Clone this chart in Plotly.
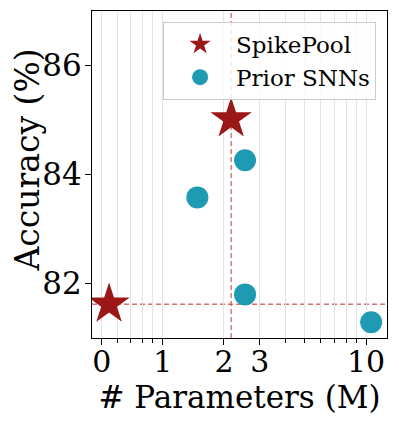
import numpy as np
import plotly.graph_objects as go

# ---- data ----
spikepool_params = [0.12, 2.17]
spikepool_acc = [81.62, 85.02]
prior_params = [1.48, 2.54, 2.54, 10.6]
prior_acc = [83.58, 84.26, 81.80, 81.29]

x_major_ticks = [0, 1, 2, 3, 10]
x_major_labels = ["0", "1", "2", "3", "10"]
x_minor_ticks = [0.25, 0.47, 0.67, 0.84, 4, 5, 6, 7, 8, 9]
y_ticks = [82, 84, 86]

K = 3.333  # decades stretch of log part relative to linear part


def T(v):
    v = np.asarray(v, dtype=float)
    return np.where(v <= 1, v, 1 + K * np.log10(np.maximum(v, 1e-9)))


FONT = "DejaVu Serif"
STAR = "#9b1718"
TEAL = "#1f9ab3"
DASH = "rgba(190,70,70,0.75)"

fig = go.Figure()
fig.add_trace(go.Scatter(
    x=T(spikepool_params), y=spikepool_acc, mode="markers", name="SpikePool",
    legendgroup="a",
    marker=dict(symbol="star", size=31, color=STAR, line=dict(width=0)),
))
fig.add_trace(go.Scatter(
    x=T(prior_params), y=prior_acc, mode="markers", name="Prior SNNs",
    legendgroup="b",
    marker=dict(symbol="circle", size=22, color=TEAL, line=dict(width=0)),
))

# reference lines through SpikePool points
fig.add_shape(type="line", xref="x", yref="paper",
              x0=float(T(spikepool_params[1])), x1=float(T(spikepool_params[1])), y0=0, y1=1,
              line=dict(color=DASH, width=1.4, dash="5px,3px"), layer="below")
fig.add_shape(type="line", xref="paper", yref="y",
              x0=0, x1=1, y0=spikepool_acc[0], y1=spikepool_acc[0],
              line=dict(color=DASH, width=1.4, dash="5px,3px"), layer="below")

# y-axis title
fig.add_annotation(text="Accuracy (%)", xref="paper", yref="paper",
                   x=-0.219, y=0.544, xanchor="center", yanchor="middle",
                   textangle=-90, showarrow=False,
                   font=dict(size=33, family=FONT, color="black"))

fig.update_layout(
    width=399, height=421,
    margin=dict(l=84, r=20, t=3, b=91, autoexpand=False),
    paper_bgcolor="white", plot_bgcolor="white",
    font=dict(family=FONT, color="black"),
    showlegend=True,
    legend=dict(
        x=0.963, y=0.967, xanchor="right", yanchor="top",
        bgcolor="rgba(255,255,255,0.85)", bordercolor="#cccccc", borderwidth=1,
        font=dict(size=23, family=FONT), itemsizing="trace",
        itemwidth=62, tracegroupgap=0,
    ),
    xaxis=dict(
        range=[-0.16, 4.677],
        tickmode="array", tickvals=T(x_major_ticks).tolist(), ticktext=x_major_labels,
        ticks="outside", ticklen=6, tickwidth=1.2, tickcolor="black",
        tickfont=dict(size=30, family=FONT), ticklabelstandoff=-9,
        showgrid=True, gridcolor="#e3e3e3", gridwidth=1,
        minor=dict(tickmode="array", tickvals=T(x_minor_ticks).tolist(),
                   ticks="outside", ticklen=3.5, tickwidth=1, tickcolor="black",
                   showgrid=True, gridcolor="#e3e3e3", gridwidth=1),
        showline=True, linecolor="black", linewidth=1.3, mirror=True,
        zeroline=False, automargin=True,
        title=dict(text="# Parameters (M)", font=dict(size=31, family=FONT), standoff=3),
    ),
    yaxis=dict(
        range=[81.0, 87.0],
        tickmode="array", tickvals=y_ticks,
        ticks="outside", ticklen=6, tickwidth=1.2, tickcolor="black",
        tickfont=dict(size=31, family=FONT), ticklabelstandoff=-3,
        showgrid=False,
        showline=True, linecolor="black", linewidth=1.3, mirror=True,
        zeroline=False, automargin=False,
    ),
)

fig.write_html("out.html")
